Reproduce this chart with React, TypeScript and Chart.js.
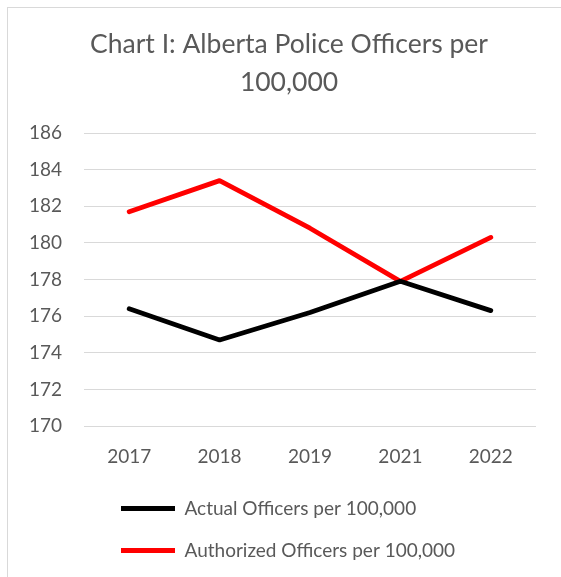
import React, { useEffect, useRef } from "react";
import { Chart, registerables } from "chart.js";

Chart.register(...registerables);

const titleLines = ["Chart I: Alberta Police Officers per", "100,000"];
const years = ["2017", "2018", "2019", "2021", "2022"];
const actualLabel = "Actual Officers per 100,000";
const authorizedLabel = "Authorized Officers per 100,000";
const actualValues = [176.4, 174.7, 176.2, 177.9, 176.3];
const authorizedValues = [181.7, 183.4, 180.8, 177.9, 180.3];
const yMin = 170;
const yMax = 186;
const yStep = 2;

const FONT = "Lato, 'Open Sans', sans-serif";
const TEXT = "#595959";

const shiftPlugin = {
  id: "shiftBoxes",
  afterLayout(chart: any) {
    if (chart.legend) {
      chart.legend.left = 90;
    }
    if (chart.titleBlock) {
      chart.titleBlock.left += 17;
      chart.titleBlock.right += 17;
    }
  },
};

export default function App() {
  const ref = useRef<HTMLCanvasElement | null>(null);
  useEffect(() => {
    if (!ref.current) return;
    const chart = new Chart(ref.current, {
      type: "line",
      data: {
        labels: years,
        datasets: [
          {
            label: actualLabel,
            data: actualValues,
            borderColor: "#000000",
            backgroundColor: "#000000",
            borderWidth: 4.8,
            borderCapStyle: "round",
            borderJoinStyle: "round",
            pointRadius: 0,
            tension: 0,
          },
          {
            label: authorizedLabel,
            data: authorizedValues,
            borderColor: "#ff0000",
            backgroundColor: "#ff0000",
            borderWidth: 4.8,
            borderCapStyle: "round",
            borderJoinStyle: "round",
            pointRadius: 0,
            tension: 0,
          },
        ],
      },
      options: {
        animation: false,
        responsive: false,
        layout: { padding: { left: 0, right: 25, top: 0, bottom: 7 } },
        plugins: {
          title: {
            display: true,
            text: titleLines,
            color: TEXT,
            font: { family: FONT, size: 26.5, weight: "normal", lineHeight: 1.434 },
            padding: { top: 17.5, bottom: 31.5 },
          },
          legend: {
            display: true,
            position: "bottom",
            align: "start",
            labels: {
              color: TEXT,
              font: { family: FONT, size: 19 },
              usePointStyle: true,
              pointStyle: "line",
              pointStyleWidth: 54,
              padding: 23,
            },
          },
          tooltip: { enabled: false },
        },
        scales: {
          x: {
            offset: true,
            grid: { display: false, drawTicks: false },
            border: { display: false },
            ticks: {
              color: TEXT,
              font: { family: FONT, size: 19 },
              padding: 19,
              maxRotation: 0,
            },
            afterFit(scale: any) {
              scale.height = 50;
            },
          },
          y: {
            min: yMin,
            max: yMax,
            grid: { color: "#d9d9d9", lineWidth: 1, drawTicks: false },
            border: { display: false },
            ticks: {
              stepSize: yStep,
              color: TEXT,
              font: { family: FONT, size: 19 },
              padding: 22,
            },
            afterFit(scale: any) {
              scale.width = 76;
            },
          },
        },
      },
      plugins: [shiftPlugin],
    });
    return () => chart.destroy();
  }, []);

  return (
    <div
      style={{
        position: "fixed",
        top: 7,
        left: 7,
        borderTop: "1px solid #d9d9d9",
        borderLeft: "1px solid #d9d9d9",
        width: 554,
        height: 570,
        background: "#ffffff",
      }}
    >
      <canvas ref={ref} width={553} height={569} style={{ display: "block" }} />
    </div>
  );
}
